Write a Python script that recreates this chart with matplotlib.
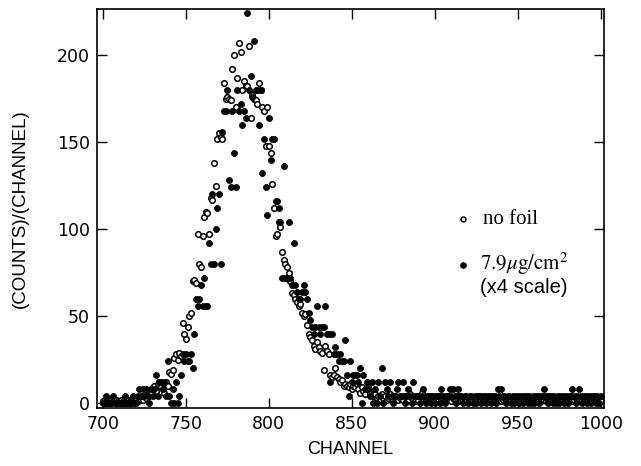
import matplotlib
matplotlib.use("Agg")
import matplotlib.pyplot as plt

plt.rcParams["mathtext.fontset"] = "stix"

channels = list(range(700, 1001))

# no foil (open circles)
no_foil = [
    1, 0, 1, 2, 1, 0, 1, 1, 2, 1,
    1, 2, 1, 0, 1, 2, 1, 1, 2, 1,
    2, 1, 3, 2, 2, 4, 3, 5, 4, 6,
    8, 10, 7, 11, 12, 9, 8, 6, 12, 10,
    18, 17, 19, 26, 28, 25, 29, 27, 46, 40,
    37, 44, 50, 52, 70, 71, 69, 97, 80, 78,
    96, 107, 110, 109, 97, 118, 117, 138, 125, 152,
    155, 153, 152, 184, 175, 176, 175, 174, 192, 200,
    170, 187, 207, 202, 180, 185, 182, 182, 205, 164,
    177, 175, 174, 172, 184, 180, 170, 168, 148, 170,
    148, 144, 126, 112, 96, 97, 104, 101, 87, 82,
    80, 78, 75, 70, 63, 62, 60, 58, 56, 57,
    52, 50, 51, 45, 40, 38, 36, 33, 31, 35,
    32, 30, 29, 19, 33, 30, 28, 16, 15, 16,
    20, 15, 14, 12, 13, 10, 11, 10, 9, 11,
    8, 10, 9, 11, 8, 6, 9, 7, 5, 8,
    9, 6, 4, 5, 5, 3, 4, 2, 5, 3,
    4, 2, 3, 5, 3, 2, 4, 3, 2, 3,
    3, 2, 4, 1, 2, 5, 3, 2, 1, 3,
    2, 4, 6, 2, 3, 1, 2, 3, 4, 2,
    3, 1, 2, 4, 2, 3, 1, 2, 3, 2,
    1, 3, 2, 2, 4, 1, 3, 2, 1, 2,
    3, 2, 1, 2, 3, 2, 4, 1, 2, 1,
    2, 3, 1, 2, 1, 3, 2, 1, 2, 3,
    1, 2, 3, 1, 2, 1, 2, 3, 1, 2,
    2, 1, 2, 1, 3, 2, 1, 2, 1, 2,
    3, 1, 2, 2, 1, 3, 2, 1, 2, 1,
    2, 1, 3, 1, 2, 2, 1, 2, 3, 1,
    2, 1, 2, 1, 2, 3, 1, 2, 1, 2,
    1, 2, 1, 3, 1, 2, 1, 1, 2, 1,
    1,
]

# 7.9 ug/cm2 foil, x4 scale (filled dots)
foil = [
    0, 0, 4, 0, 0, 0, 4, 0, 0, 0,
    0, 0, 0, 4, 0, 0, 0, 0, 4, 0,
    0, 4, 8, 4, 8, 4, 8, 4, 0, 8,
    4, 8, 16, 4, 12, 12, 8, 12, 4, 24,
    4, 0, 8, 0, 12, 0, 4, 16, 28, 24,
    28, 24, 24, 28, 20, 40, 60, 56, 60, 68,
    56, 72, 56, 56, 92, 80, 120, 80, 100, 112,
    120, 80, 156, 168, 168, 180, 128, 124, 168, 144,
    124, 180, 168, 172, 160, 168, 164, 224, 180, 188,
    176, 208, 180, 180, 160, 180, 132, 152, 124, 108,
    164, 140, 152, 152, 116, 116, 112, 104, 72, 136,
    72, 72, 104, 72, 68, 92, 68, 64, 60, 60,
    64, 68, 64, 60, 52, 48, 44, 40, 44, 56,
    44, 40, 44, 44, 56, 40, 40, 12, 40, 28,
    32, 28, 24, 28, 24, 24, 36, 16, 4, 24,
    12, 16, 16, 16, 12, 20, 0, 16, 8, 12,
    8, 4, 12, 0, 8, 0, 12, 4, 20, 0,
    12, 8, 4, 12, 4, 0, 4, 8, 12, 4,
    4, 12, 0, 4, 8, 4, 0, 12, 4, 4,
    4, 0, 4, 8, 4, 0, 4, 4, 0, 4,
    0, 4, 4, 0, 8, 4, 0, 4, 4, 8,
    4, 8, 4, 0, 8, 4, 4, 0, 4, 4,
    0, 4, 4, 0, 4, 0, 4, 4, 0, 4,
    4, 0, 4, 4, 0, 4, 4, 0, 8, 4,
    8, 4, 4, 0, 4, 4, 0, 4, 0, 4,
    4, 0, 4, 0, 4, 4, 0, 4, 0, 4,
    0, 4, 4, 0, 4, 4, 8, 4, 0, 4,
    4, 0, 4, 0, 4, 0, 4, 4, 0, 4,
    0, 4, 4, 8, 4, 0, 4, 8, 4, 0,
    4, 4, 0, 4, 0, 4, 4, 0, 4, 0,
    4,
]

x_ticks = [700, 750, 800, 850, 900, 950, 1000]
y_ticks = [0, 50, 100, 150, 200]

fig = plt.figure(figsize=(6.41, 4.66), dpi=100)
ax = fig.add_axes([0.1513, 0.1245, 0.791, 0.8562])

ax.plot(channels, no_foil, "o", ms=4.0, mfc="white", mec="black", mew=1.1)
ax.plot(channels, foil, "o", ms=4.4, mfc="black", mec="black", mew=0.5)

ax.set_xlim(696.4, 1002)
ax.set_ylim(-2.8, 226.5)
ax.set_xticks(x_ticks)
ax.set_yticks(y_ticks)

tick_font = {"family": "DejaVu Sans", "size": 12.5}
ax.set_xticklabels([str(t) for t in x_ticks], fontdict=tick_font)
ax.set_yticklabels([str(t) for t in y_ticks], fontdict=tick_font)
ax.tick_params(direction="in", length=7, width=1.0, top=True, right=True, pad=5)
for s in ax.spines.values():
    s.set_linewidth(1.2)

ax.set_xlabel("CHANNEL", family="Liberation Sans", size=13, labelpad=6)
ax.set_ylabel("(COUNTS)/(CHANNEL)", family="Liberation Sans", size=13.5, labelpad=20)

# legend drawn by hand, like the original figure
ax.plot([0.721], [0.473], "o", ms=3.5, mfc="white", mec="black", mew=1.1,
        transform=ax.transAxes, clip_on=False)
ax.text(0.762, 0.473, "no foil", transform=ax.transAxes, va="center",
        family="Liberation Serif", size=15)
ax.plot([0.721], [0.358], "o", ms=3.8, mfc="black", mec="black",
        transform=ax.transAxes, clip_on=False)
ax.text(0.755, 0.362, r"$\mathrm{7.9}\mu\mathrm{g/cm}^2$", transform=ax.transAxes,
        va="center", size=15)
ax.text(0.755, 0.303, "(x4 scale)", transform=ax.transAxes, va="center",
        family="Liberation Sans", size=14.5)

fig.savefig("out.png", dpi=100)
